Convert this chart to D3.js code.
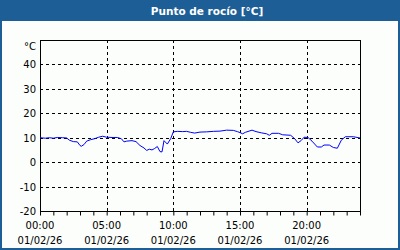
<!DOCTYPE html>
<html>
<head>
<meta charset="utf-8">
<script src="https://cdn.jsdelivr.net/npm/d3@7"></script>
<style>
  body { margin: 0; background: #fbfefb; }
  svg { display: block; }
</style>
</head>
<body>
<script>
// punto de rocío, 01/02/26 (horas desde 00:00)
const hours = [0, 0.4, 0.7, 1, 1.3, 1.7, 2, 2.2, 2.5, 2.8, 3, 3.1, 3.3, 3.5, 3.8, 4.1, 4.4, 4.7,
  5, 5.4, 5.8, 6.1, 6.3, 6.5, 6.9, 7.2, 7.5, 7.8, 8, 8.2, 8.4, 8.6, 8.8, 9, 9.15, 9.3, 9.55, 9.8,
  10, 10.3, 10.7, 11, 11.3, 11.6, 12, 12.5, 13, 13.5, 14, 14.5, 14.8, 15, 15.2, 15.4, 15.9,
  16.2, 16.6, 17, 17.2, 17.4, 17.9, 18.2, 18.8, 19.1, 19.35, 19.6, 19.8, 20.1, 20.4, 20.8,
  21.1, 21.3, 21.7, 22, 22.3, 22.6, 22.9, 23.5, 24]
const dewpoint = [10, 9.8, 10, 9.8, 10.1, 10, 9.9, 9, 8.4, 8.3, 6.8, 6.5, 7.2, 8.6, 9.2, 9.6, 10.2, 10.6,
  10.2, 10.1, 10.1, 9.6, 8.3, 8.6, 8.8, 8.4, 6.8, 5.8, 4.8, 5.3, 5, 5.6, 6.4, 4.3, 4.2, 8.8, 7.4, 9.6,
  12.4, 12.6, 12.5, 12.6, 12.2, 11.9, 12.3, 12.4, 12.6, 12.7, 13.1, 13, 12.5, 12.1, 11.6, 12.2, 13.1,
  12.5, 12, 11.6, 11, 11.8, 11.8, 11.2, 11, 9.6, 7.9, 8.9, 10.2, 10.1, 8.6, 6.2,
  6.2, 7, 7, 6, 5.7, 9, 10.4, 10.4, 9.9]
const yTicks = [-20, -10, 0, 10, 20, 30, 40]
const xTicks = [0, 5, 10, 15, 20]
const xLabels = ['00:00', '05:00', '10:00', '15:00', '20:00']
const dateLabel = '01/02/26'

const W = 400, H = 250
const m = {top: 40, right: 40, bottom: 39, left: 40}

const svg = d3.select('body').append('svg').attr('width', W).attr('height', H)
  .style('font-family', '"DejaVu Sans", Verdana, sans-serif')

// marco y título
svg.append('rect').attr('x', 1).attr('y', 1).attr('width', W - 2).attr('height', H - 2)
  .attr('fill', '#fbfefb').attr('stroke', '#1e5e96').attr('stroke-width', 2)
svg.append('rect').attr('x', 0).attr('y', 0).attr('width', W).attr('height', 21).attr('fill', '#1e5e96')
svg.append('text').attr('x', 207).attr('y', 15).attr('text-anchor', 'middle')
  .attr('fill', '#fff').attr('font-weight', 'bold').attr('font-size', 10.5)
  .text('Punto de rocío [°C]')

const x = d3.scaleLinear().domain([0, 24]).range([m.left, W - m.right])
const y = d3.scaleLinear().domain([-20, 50]).range([H - m.bottom, m.top])

const g = svg.append('g')

// rejilla
g.selectAll('.hgrid').data(yTicks.filter(d => d > -20)).enter().append('line')
  .attr('x1', x(0)).attr('x2', x(24))
  .attr('y1', d => Math.round(y(d)) + 0.5).attr('y2', d => Math.round(y(d)) + 0.5)
  .attr('stroke', '#000').attr('stroke-dasharray', '3,3')
g.selectAll('.vgrid').data(xTicks.filter(d => d > 0)).enter().append('line')
  .attr('x1', d => Math.round(x(d)) + 0.5).attr('x2', d => Math.round(x(d)) + 0.5)
  .attr('y1', y(50)).attr('y2', y(-20))
  .attr('stroke', '#000').attr('stroke-dasharray', '3,3')

// eje x: marcas cada hora
const xAxis = g.append('g').attr('transform', 'translate(0,' + (Math.round(y(-20)) + 0.5) + ')')
  .call(d3.axisBottom(x).tickValues(d3.range(0, 25)).tickSize(4).tickFormat(''))
xAxis.select('.domain').remove()
xAxis.selectAll('line').attr('stroke', '#000')

// marco del gráfico
g.append('rect').attr('x', x(0) + 0.5).attr('y', y(50) + 0.5)
  .attr('width', x(24) - x(0)).attr('height', y(-20) - y(50))
  .attr('fill', 'none').attr('stroke', '#000')

// etiquetas
g.selectAll('.ylab').data(yTicks).enter().append('text')
  .attr('x', 36).attr('y', d => y(d) + 4).attr('text-anchor', 'end')
  .attr('font-size', 10).attr('fill', '#000').text(d => d)
g.append('text').attr('x', 36).attr('y', 50).attr('text-anchor', 'end')
  .attr('font-size', 10).text('°C')

g.selectAll('.xlab').data(xTicks).enter().append('text')
  .attr('x', d => x(d)).attr('y', 229).attr('text-anchor', 'middle')
  .attr('font-size', 10).text((d, i) => xLabels[i])
g.selectAll('.xdate').data(xTicks).enter().append('text')
  .attr('x', d => x(d)).attr('y', 244).attr('text-anchor', 'middle')
  .attr('font-size', 10).text(dateLabel)

// serie
const line = d3.line().x((d, i) => x(hours[i])).y(d => y(d))
g.append('path').datum(dewpoint).attr('d', line)
  .attr('fill', 'none').attr('stroke', '#0000ff').attr('stroke-width', 1)
</script>
</body>
</html>
